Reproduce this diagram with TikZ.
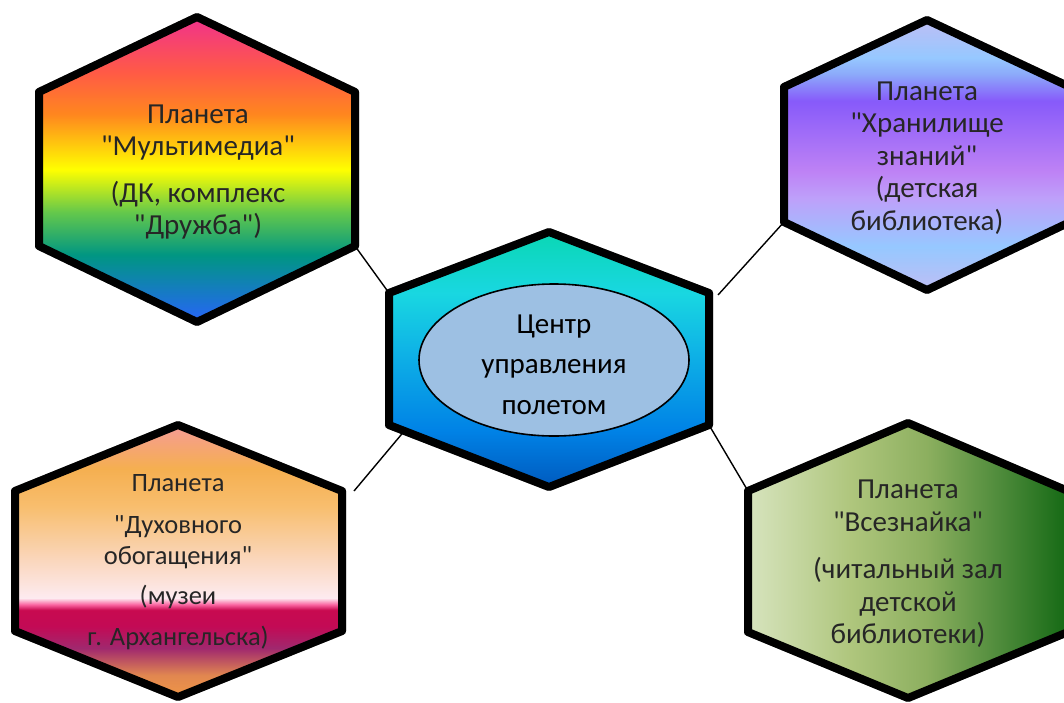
\documentclass[tikz,border=0pt]{standalone}
\usepackage{fontspec}
\setmainfont{Carlito}[Ligatures=TeXOff]
\usetikzlibrary{shapes.geometric}
\pgfdeclareverticalshading{shOne}{100bp}{
 color(0bp)=(rgb,255:red,40;green,100;blue,250);
 color(25bp)=(rgb,255:red,40;green,100;blue,250);
 color(36bp)=(rgb,255:red,0;green,150;blue,130);
 color(43bp)=(rgb,255:red,100;green,200;blue,75);
 color(50bp)=(rgb,255:red,255;green,255;blue,0);
 color(59bp)=(rgb,255:red,255;green,135;blue,30);
 color(66bp)=(rgb,255:red,255;green,90;blue,70);
 color(75bp)=(rgb,255:red,240;green,50;blue,140);
 color(100bp)=(rgb,255:red,240;green,50;blue,140)}
\pgfdeclareverticalshading{shTwo}{100bp}{
 color(0bp)=(rgb,255:red,190;green,190;blue,245);
 color(25bp)=(rgb,255:red,190;green,190;blue,245);
 color(33bp)=(rgb,255:red,150;green,200;blue,255);
 color(42bp)=(rgb,255:red,190;green,160;blue,250);
 color(47bp)=(rgb,255:red,190;green,130;blue,245);
 color(60bp)=(rgb,255:red,135;green,90;blue,250);
 color(65bp)=(rgb,255:red,140;green,170;blue,250);
 color(68bp)=(rgb,255:red,150;green,200;blue,255);
 color(75bp)=(rgb,255:red,190;green,190;blue,245);
 color(100bp)=(rgb,255:red,190;green,190;blue,245)}
\pgfdeclareverticalshading{shCent}{100bp}{
 color(0bp)=(rgb,255:red,0;green,90;blue,190);
 color(25bp)=(rgb,255:red,0;green,90;blue,190);
 color(36bp)=(rgb,255:red,0;green,130;blue,230);
 color(52bp)=(rgb,255:red,15;green,180;blue,230);
 color(63bp)=(rgb,255:red,25;green,215;blue,225);
 color(75bp)=(rgb,255:red,10;green,215;blue,180);
 color(100bp)=(rgb,255:red,10;green,215;blue,180)}
\pgfdeclareverticalshading{shThree}{100bp}{
 color(0bp)=(rgb,255:red,240;green,150;blue,70);
 color(25bp)=(rgb,255:red,240;green,150;blue,70);
 color(29bp)=(rgb,255:red,225;green,135;blue,80);
 color(34bp)=(rgb,255:red,160;green,40;blue,110);
 color(38bp)=(rgb,255:red,195;green,10;blue,85);
 color(41bp)=(rgb,255:red,200;green,10;blue,80);
 color(42bp)=(rgb,255:red,250;green,100;blue,160);
 color(43.2bp)=(rgb,255:red,253;green,235;blue,240);
 color(50bp)=(rgb,255:red,250;green,215;blue,190);
 color(60bp)=(rgb,255:red,248;green,190;blue,110);
 color(67bp)=(rgb,255:red,245;green,175;blue,80);
 color(75bp)=(rgb,255:red,245;green,155;blue,150);
 color(100bp)=(rgb,255:red,245;green,155;blue,150)}
\pgfdeclarehorizontalshading{shFour}{100bp}{
 color(0bp)=(rgb,255:red,215;green,228;blue,190);
 color(25bp)=(rgb,255:red,215;green,228;blue,190);
 color(41bp)=(rgb,255:red,175;green,198;blue,125);
 color(53bp)=(rgb,255:red,140;green,175;blue,95);
 color(64bp)=(rgb,255:red,80;green,140;blue,60);
 color(75bp)=(rgb,255:red,20;green,105;blue,20);
 color(100bp)=(rgb,255:red,20;green,105;blue,20)}
\tikzset{
 hexline/.style={draw=black,line width=8pt,line join=round},
 hexshadow/.style={draw=black,line width=8pt,line join=round,opacity=0.07},
 planettext/.style={inner sep=0pt,align=center,text=black!85,font=\fontsize{29}{32.5}\selectfont},
 link/.style={draw=black,line width=1.4pt}
}
\newcommand{\hexplanet}[9]{%
 \coordinate (#1T) at (#2,#5);
 \coordinate (#1TR) at (#4,#6);
 \coordinate (#1BR) at (#4,#7);
 \coordinate (#1B) at (#2,#8);
 \coordinate (#1BL) at (#3,#7);
 \coordinate (#1TL) at (#3,#6);
 \foreach \shd in {1,2,3,4,5}{
  \path[hexshadow,yshift=-\shd pt] (#1T)--(#1TR)--(#1BR)--(#1B)--(#1BL)--(#1TL)--cycle;}
 \path[shading=#9] (#1T)--(#1TR)--(#1BR)--(#1B)--(#1BL)--(#1TL)--cycle;
 \path[hexline] (#1T)--(#1TR)--(#1BR)--(#1B)--(#1BL)--(#1TL)--cycle;
}
\begin{document}
\begin{tikzpicture}[x=1pt,y=-1pt]
\useasboundingbox[fill=white] (0,0) rectangle (1064,702);
\begin{scope}
\clip (0,0) rectangle (1064,702);
\hexplanet{a}{197}{39}{355}{17}{92}{246}{322}{shOne}
\hexplanet{b}{927}{784}{1070}{20}{87}{222}{290}{shTwo}
\hexplanet{c}{549}{389}{709}{232}{293}{425}{487}{shCent}
\hexplanet{d}{178}{15}{342}{425}{491}{631}{697}{shThree}
\hexplanet{e}{908}{748}{1068}{423}{491}{632}{698}{shFour}
\coordinate (fb) at (718,295);
\coordinate (fd) at (354,491);
\coordinate (fc) at (406,429);
\path[link] (aBR) -- (cTL);
\path[link] (fb) -- (bBL);
\path[link] (fd) -- (fc);
\path[link] (cBR) -- (eTL);
\node[ellipse,draw=black,line width=1.6pt,fill={rgb,255:red,157;green,192;blue,227},minimum width=270pt,minimum height=152pt,inner sep=0pt] (core) at (554,360) {\raisebox{-7pt}[0pt][0pt]{\parbox[c]{150pt}{\centering\fontsize{29}{40.5}\selectfont Центр\\управления\\полетом}}};
\node[planettext] (ta) at (198,172) {Планета\\"Мультимедиа"\\[14pt](ДК, комплекс\\"Дружба")};
\node[planettext] (tb) at (927,158) {Планета\\"Хранилище\\знаний"\\(детская\\библиотека)};
\node[planettext,font=\fontsize{26.5}{31}\selectfont] (td) at (178,562) {Планета\\[11pt]"Духовного\\обогащения"\\[9pt](музеи\\[10pt]г. Архангельска)};
\node[planettext] (te) at (908,564) {Планета\\"Всезнайка"\\[15pt](читальный зал\\детской\\библиотеки)};
\end{scope}
\end{tikzpicture}
\end{document}
